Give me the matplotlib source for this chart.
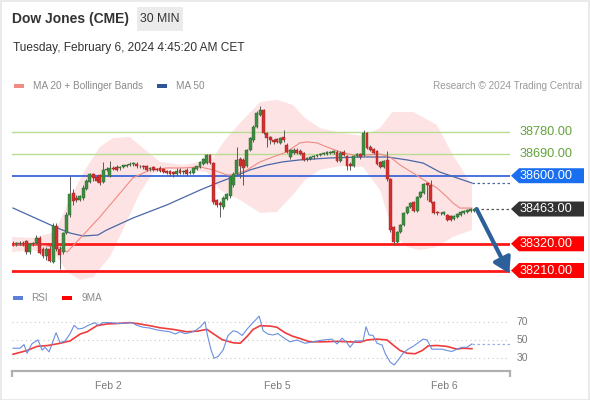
import matplotlib
matplotlib.use('Agg')
import matplotlib.pyplot as plt
from matplotlib.patches import Polygon, Rectangle

plt.rcParams['font.family'] = ['Liberation Sans', 'DejaVu Sans']

# ---------------- data ----------------
opens = [38320, 38318, 38322, 38325, 38330, 38285, 38320, 38325, 38345, 38300,
         38268, 38300, 38245, 38395, 38300, 38285, 38365, 38440, 38530, 38510,
         38500, 38510, 38545, 38575, 38605, 38595, 38603, 38575, 38625, 38600,
         38630, 38635, 38630, 38635, 38640, 38645, 38648, 38650, 38638, 38638,
         38640, 38628, 38635, 38628, 38632, 38628, 38620, 38620, 38615, 38605,
         38625, 38615, 38625, 38610, 38610, 38628, 38635, 38650, 38652, 38685,
         38652, 38500, 38488, 38470, 38505, 38515, 38560, 38608, 38668, 38665,
         38640, 38705, 38745, 38800, 38850, 38870, 38775, 38760, 38745, 38750,
         38735, 38760, 38727, 38675, 38695, 38706, 38702, 38694, 38668, 38670,
         38675, 38680, 38684, 38688, 38690, 38692, 38694, 38698, 38660, 38698,
         38680, 38650, 38640, 38680, 38690, 38685, 38775, 38720, 38708, 38700,
         38655, 38635, 38665, 38585, 38390, 38327, 38369, 38397, 38447, 38471,
         38492, 38455, 38513, 38529, 38568, 38562, 38492, 38450, 38448, 38444,
         38438, 38435, 38420, 38430, 38437, 38447, 38451, 38455, 38453]
highs = [38330, 38328, 38330, 38332, 38335, 38325, 38328, 38355, 38350, 38305,
         38305, 38310, 38405, 38405, 38310, 38370, 38450, 38600, 38545, 38520,
         38520, 38560, 38585, 38610, 38612, 38600, 38608, 38655, 38635, 38660,
         38638, 38642, 38640, 38645, 38650, 38655, 38655, 38656, 38645, 38645,
         38645, 38636, 38640, 38632, 38638, 38632, 38625, 38625, 38620, 38630,
         38630, 38625, 38630, 38622, 38635, 38640, 38660, 38672, 38690, 38690,
         38655, 38505, 38495, 38515, 38530, 38600, 38615, 38720, 38675, 38672,
         38710, 38760, 38810, 38865, 38887, 38875, 38778, 38765, 38752, 38755,
         38760, 38790, 38735, 38710, 38712, 38712, 38708, 38698, 38675, 38680,
         38684, 38690, 38694, 38698, 38700, 38702, 38705, 38704, 38700, 38704,
         38685, 38655, 38684, 38695, 38695, 38790, 38780, 38725, 38712, 38705,
         38660, 38665, 38700, 38590, 38395, 38372, 38400, 38450, 38475, 38492,
         38498, 38516, 38537, 38568, 38572, 38582, 38496, 38455, 38452, 38453,
         38442, 38438, 38440, 38447, 38456, 38459, 38463, 38466, 38467]
lows = [38310, 38310, 38315, 38312, 38280, 38280, 38312, 38320, 38280, 38262,
        38255, 38245, 38240, 38290, 38215, 38280, 38360, 38430, 38480, 38490,
        38495, 38500, 38540, 38570, 38580, 38575, 38560, 38570, 38618, 38595,
        38622, 38620, 38625, 38630, 38635, 38640, 38638, 38630, 38630, 38628,
        38620, 38620, 38618, 38618, 38615, 38610, 38608, 38600, 38595, 38600,
        38605, 38608, 38600, 38605, 38605, 38622, 38630, 38645, 38648, 38648,
        38485, 38470, 38432, 38465, 38500, 38510, 38555, 38600, 38590, 38560,
        38635, 38700, 38740, 38795, 38845, 38770, 38718, 38730, 38732, 38735,
        38730, 38740, 38695, 38670, 38690, 38688, 38685, 38660, 38662, 38665,
        38670, 38676, 38680, 38684, 38686, 38688, 38690, 38655, 38655, 38680,
        38625, 38625, 38635, 38675, 38670, 38680, 38710, 38700, 38690, 38645,
        38630, 38630, 38580, 38370, 38319, 38322, 38365, 38392, 38442, 38466,
        38450, 38450, 38508, 38525, 38500, 38488, 38443, 38440, 38440, 38440,
        38414, 38414, 38416, 38426, 38433, 38443, 38447, 38451, 38450]
closes = [38318, 38322, 38325, 38318, 38285, 38320, 38322, 38345, 38283, 38268,
          38298, 38250, 38395, 38300, 38275, 38365, 38440, 38525, 38495, 38500,
          38515, 38550, 38580, 38605, 38590, 38580, 38570, 38625, 38627, 38632,
          38628, 38625, 38635, 38642, 38645, 38650, 38650, 38638, 38640, 38635,
          38625, 38632, 38622, 38625, 38620, 38615, 38612, 38605, 38605, 38620,
          38610, 38620, 38608, 38615, 38630, 38638, 38655, 38668, 38685, 38652,
          38490, 38478, 38478, 38510, 38525, 38595, 38608, 38665, 38640, 38632,
          38705, 38755, 38800, 38860, 38870, 38775, 38755, 38745, 38738, 38740,
          38755, 38745, 38698, 38705, 38706, 38694, 38690, 38665, 38670, 38675,
          38680, 38686, 38690, 38694, 38696, 38698, 38700, 38660, 38695, 38685,
          38640, 38640, 38680, 38690, 38675, 38775, 38715, 38705, 38694, 38650,
          38635, 38660, 38585, 38375, 38327, 38369, 38397, 38447, 38471, 38488,
          38455, 38513, 38533, 38565, 38560, 38492, 38447, 38445, 38445, 38449,
          38418, 38418, 38435, 38443, 38452, 38455, 38459, 38462, 38463]

# indicator lines (read at sample bars)
ma_x = [0, 8.1, 14.1, 16.2, 21.0, 26.0, 31.1, 35.9, 41.0, 46.1, 50.9, 56.0, 59.9,
        64.1, 65.9, 70.1, 74.0, 77.8, 82.0, 85.9, 88.0, 91.0, 94.0, 97.9, 101.8,
        106.0, 109.9, 112.9, 115.9, 119.8, 124.0, 126.9, 129.9, 131.7, 133.8, 137.4]
ma20 = [38315, 38315, 38303, 38286, 38356, 38430, 38513, 38591, 38624, 38632, 38632,
        38636, 38624, 38603, 38603, 38624, 38657, 38677, 38698, 38735, 38739, 38735,
        38718, 38698, 38685, 38685, 38689, 38677, 38644, 38611, 38574, 38550, 38513,
        38488, 38467, 38467]
ma50_x = [0, 6.0, 12.6, 17.1, 21.0, 25.4, 28.1, 35.9, 46.1, 56.0, 61.1, 65.9, 71.0,
          76.0, 80.8, 85.9, 94.9, 104.8, 112.0, 118.0, 122.8, 127.8, 132.9, 137.4]
ma50 = [38467, 38430, 38389, 38364, 38352, 38356, 38377, 38426, 38480, 38541, 38570,
        38595, 38624, 38644, 38657, 38665, 38673, 38677, 38677, 38665, 38652, 38615,
        38591, 38570]
bb_up_x = [-0.3, 6.0, 12.6, 16.2, 21.0, 26.0, 29.9, 35.0, 38.9, 44.0, 50.9, 56.0, 59.9,
           63.5, 68.0, 74.0, 79.0, 83.8, 87.4, 91.9, 97.9, 104.8, 109.9, 113.5, 119.8,
           126.9, 131.7, 137.4]
bb_upper = [38348, 38344, 38369, 38480, 38611, 38718, 38755, 38759, 38714, 38657, 38644,
            38657, 38673, 38747, 38817, 38903, 38912, 38891, 38838, 38796, 38776, 38764,
            38796, 38862, 38862, 38809, 38685, 38562]
bb_lo_x = [-0.3, 6.0, 13.2, 16.2, 20.1, 24.0, 29.0, 32.9, 38.0, 41.9, 46.1, 52.1, 58.1,
           62.0, 68.0, 74.0, 79.0, 83.8, 87.4, 91.9, 97.9, 104.8, 109.9, 113.8, 118.0,
           121.9, 126.9, 131.7, 137.4]
bb_lower = [38286, 38294, 38266, 38204, 38171, 38183, 38266, 38377, 38529, 38611, 38624,
            38624, 38615, 38541, 38500, 38447, 38451, 38521, 38582, 38624, 38640, 38636,
            38541, 38364, 38307, 38294, 38307, 38348, 38377]

# key levels
resist_levels = [38780, 38690]
pivot_level = 38600
last_price = 38463
support_levels = [38320, 38210]
target_price = 38210

# RSI panel
rsi_x = [0, 2.1, 3.3, 4.2, 5.7, 7.5, 8.7, 9.6, 10.8, 12.9, 14.1, 15.6, 17.1, 18.3,
         19.5, 21.0, 22.5, 24.6, 25.4, 26.9, 29.0, 32.0, 35.6, 37.1, 38.9, 41.0,
         43.1, 44.9, 47.0, 48.5, 50.0, 51.5, 53.0, 54.5, 56.0, 57.5, 58.1, 59.3,
         60.2, 61.4, 62.9, 64.4, 65.9, 67.1, 68.6, 70.1, 71.6, 73.1, 73.7, 74.9,
         76.3, 77.8, 79.3, 80.8, 82.9, 85.0, 87.4, 89.8, 92.8, 95.5, 97.0, 98.5,
         100.0, 100.9, 102.4, 103.9, 104.8, 105.7, 106.6, 107.8, 109.0, 110.5,
         111.4, 112.9, 114.1, 115.3, 116.8, 118.3, 119.8, 121.3, 122.8, 124.0,
         125.4, 126.9, 128.4, 129.9, 131.4, 132.9, 134.4, 135.9, 137.4]
rsi = [41, 41, 45, 35.5, 46, 50, 39, 42, 37, 58, 47, 49, 57, 66, 62, 63, 66, 69, 66,
       69, 69, 68, 69, 66, 64, 63, 61, 60, 59, 56.5, 59, 57, 58, 60, 64, 70, 57, 39,
       30, 32, 39, 55, 60, 59, 55, 62, 68, 73.7, 76, 60, 56.5, 55.5, 57, 53, 48, 50,
       46.4, 48, 50, 51, 45.7, 52, 47, 42, 49, 49, 49, 64.5, 55.5, 55, 46.4, 44.5,
       35.5, 26, 22.7, 28, 35.5, 40, 43, 47, 51, 50, 40, 40, 40, 38.5, 37.5, 40, 42,
       42, 45.7]
ma9_x = [0, 4.2, 7.2, 10.5, 14.1, 17.1, 20.1, 22.2, 25.1, 28.1, 31.1, 35.0, 38.0, 41.0,
         44.0, 47.9, 52.1, 55.1, 58.1, 59.9, 62.6, 65.9, 68.0, 70.1, 71.9, 74.0, 77.0,
         79.0, 81.4, 83.8, 85.9, 88.9, 92.8, 97.0, 100.9, 103.9, 106.0, 109.0, 112.0,
         113.8, 115.9, 118.0, 120.4, 122.5, 124.3, 126.9, 129.9, 132.9, 134.7, 137.4]
rsi_ma9 = [34.4, 38.5, 43, 44, 46.4, 49, 56.5, 59, 65.6, 67.5, 68, 69, 67.5, 65.6, 63.4,
           61.6, 59, 59.6, 61.6, 57, 50.4, 47, 46.4, 54, 61.6, 65.6, 65.2, 64, 58, 54,
           51.7, 48, 48, 48.5, 48, 47.5, 50, 51, 50, 44.5, 38.5, 35.5, 35, 38.5, 43.5,
           44, 43, 40, 41, 40.5]
rsi_levels = [70, 50, 30]
date_ticks = [28.7, 79.0, 129.0]
date_labels = ['Feb 2', 'Feb 5', 'Feb 6']

# ---------------- layout helpers ----------------
W, H = 590, 400
fig = plt.figure(figsize=(W / 100, H / 100), dpi=100)
fig.patch.set_facecolor('white')


def fx(px):
    return px / W


def fy(py):
    return 1 - py / H


XL = (-0.3, 148.8)

# outer border
fig.add_artist(Rectangle((0.001, 0.001), 0.997, 0.997, transform=fig.transFigure,
                         facecolor='none', edgecolor='#e6e6e6', lw=1.2))

# header
fig.text(fx(12), fy(19), 'Dow Jones (CME)', fontsize=10, fontweight='bold',
         color='#333333', va='center', ha='left')
fig.add_artist(Rectangle((fx(137), fy(31)), 46 / W, 24 / H, transform=fig.transFigure,
                         facecolor='#ebebeb', edgecolor='none'))
fig.text(fx(160), fy(19), '30 MIN', fontsize=8.8, color='#333333', va='center', ha='center')
fig.text(fx(13), fy(48), 'Tuesday, February 6, 2024 4:45:20 AM CET', fontsize=8.6,
         color='#333333', va='center', ha='left')

# legend
fig.add_artist(Rectangle((fx(14), fy(88)), 10 / W, 4 / H, transform=fig.transFigure,
                         facecolor='#f28b82', edgecolor='none'))
fig.text(fx(33), fy(86), 'MA 20 + Bollinger Bands', fontsize=7.2, color='#8a8a8a',
         va='center', ha='left')
fig.add_artist(Rectangle((fx(157), fy(88)), 10 / W, 4 / H, transform=fig.transFigure,
                         facecolor='#2f5597', edgecolor='none'))
fig.text(fx(176), fy(86), 'MA 50', fontsize=7.2, color='#8a8a8a', va='center', ha='left')
fig.text(fx(582), fy(86), 'Research \u00a9 2024 Trading Central', fontsize=7.2,
         color='#9a9a9a', va='center', ha='right')

# ---------------- main chart ----------------
ax = fig.add_axes([fx(12), fy(280), 498 / W, 185 / H])
ax.set_xlim(*XL)
ax.set_ylim(38171, 38932)
ax.axis('off')

# Bollinger band fill
poly_pts = list(zip(bb_up_x, bb_upper)) + list(zip(bb_lo_x[::-1], bb_lower[::-1]))
ax.add_patch(Polygon(poly_pts, closed=True, facecolor='#fde3e3', edgecolor='none', zorder=1))

for lv in resist_levels:
    ax.axhline(lv, color='#b8dc92', lw=1.0, zorder=2)
ax.axhline(pivot_level, color='#2a5bd7', lw=1.2, zorder=2)
for lv in support_levels:
    ax.axhline(lv, color='#ff1a1a', lw=2.0, zorder=2)

ax.plot(ma50_x, ma50, color='#4a68a8', lw=0.9, zorder=3)
ax.plot(ma_x, ma20, color='#f08a84', lw=0.8, zorder=3)

# candles
for i, (o, h, l, c) in enumerate(zip(opens, highs, lows, closes)):
    up = c >= o
    col = '#3e8e41' if up else '#d32f2f'
    ax.vlines(i, l, h, color='#5a5a5a', lw=0.7, zorder=4)
    bottom = min(o, c)
    height = max(abs(c - o), 3)
    ax.bar(i, height, bottom=bottom, width=0.85, color=col,
           edgecolor='#2e5e2e' if up else '#9e2222', lw=0.3, zorder=5)

# dotted extensions
ax.plot([ma50_x[-1], XL[1]], [ma50[-1], ma50[-1]], color='#4a68a8', lw=0.9,
        ls=(0, (2, 2)), zorder=3)
ax.plot([len(closes) - 0.5, XL[1]], [last_price, last_price], color='#555555', lw=0.9,
        ls=(0, (2, 2)), zorder=3)

# arrow
ax.annotate('', xy=(XL[1] - 0.2, target_price - 12), xytext=(len(closes) - 0.2, last_price),
            arrowprops=dict(arrowstyle='-|>,head_length=0.9,head_width=0.55', lw=3,
                            color='#2d5f9a', shrinkA=0, shrinkB=0),
            annotation_clip=False, zorder=6)

# right labels
inv = fig.transFigure.inverted()


def level_fig_y(level):
    return inv.transform(ax.transData.transform((0, level)))[1]


for lv in resist_levels:
    fig.text(fx(520), level_fig_y(lv), f'{lv:.2f}', fontsize=9.2, color='#62a339',
             va='center', ha='left')

box_levels = [pivot_level, last_price] + support_levels
box_colors = ['#1a6ff0', '#333333', '#ff0000', '#ff0000']
for lv, colr in zip(box_levels, box_colors):
    yc = level_fig_y(lv)
    hh = 7.5 / H
    pts = [(fx(511), yc), (fx(519), yc + hh), (fx(584), yc + hh), (fx(584), yc - hh),
           (fx(519), yc - hh)]
    fig.add_artist(Polygon(pts, closed=True, transform=fig.transFigure, facecolor=colr,
                           edgecolor='none'))
    fig.text(fx(520), yc, f'{lv:.2f}', fontsize=9.2, color='white', va='center', ha='left')

# ---------------- RSI panel ----------------
fig.add_artist(Rectangle((fx(13), fy(300)), 10 / W, 4 / H, transform=fig.transFigure,
                         facecolor='#5b7fdb', edgecolor='none'))
fig.text(fx(31), fy(298), 'RSI', fontsize=7.2, color='#8a8a8a', va='center', ha='left')
fig.add_artist(Rectangle((fx(62), fy(300)), 10 / W, 4 / H, transform=fig.transFigure,
                         facecolor='#ff0000', edgecolor='none'))
fig.text(fx(81), fy(298), '9MA', fontsize=7.2, color='#8a8a8a', va='center', ha='left')

ax2 = fig.add_axes([fx(12), fy(371), 498 / W, 59 / H])
ax2.set_xlim(*XL)
ax2.set_ylim(16.1, 80.6)
for s in ['top', 'left', 'right']:
    ax2.spines[s].set_visible(False)
ax2.spines['bottom'].set_color('#b0b0b0')
ax2.spines['bottom'].set_linewidth(1.6)
ax2.set_yticks([])
for lv in rsi_levels:
    ax2.axhline(lv, color='#c8c8c8', lw=0.8, ls=(0, (1, 3)))
    ax2.text(1.013, lv, str(lv), transform=ax2.get_yaxis_transform(), fontsize=7.5,
             color='#7a7a7a', va='center', ha='left')
ax2.plot(ma9_x, rsi_ma9, color='#f03c3c', lw=1.2, zorder=3)
ax2.plot(rsi_x, rsi, color='#6a8ee0', lw=0.8, zorder=4)
ax2.plot([rsi_x[-1], XL[1]], [rsi[-1], rsi[-1]], color='#9db0ea', lw=0.9, ls=(0, (2, 2)))
ax2.set_xticks(date_ticks)
ax2.set_xticklabels(date_labels, fontsize=7.5, color='#7a7a7a')
ax2.tick_params(axis='x', length=0, pad=7)
tr = ax2.get_xaxis_transform()
for xe in XL:
    ax2.plot([xe, xe], [0, -0.1], color='#b0b0b0', lw=1.6, transform=tr, clip_on=False,
             solid_capstyle='butt')

fig.savefig('out.png', dpi=100)
